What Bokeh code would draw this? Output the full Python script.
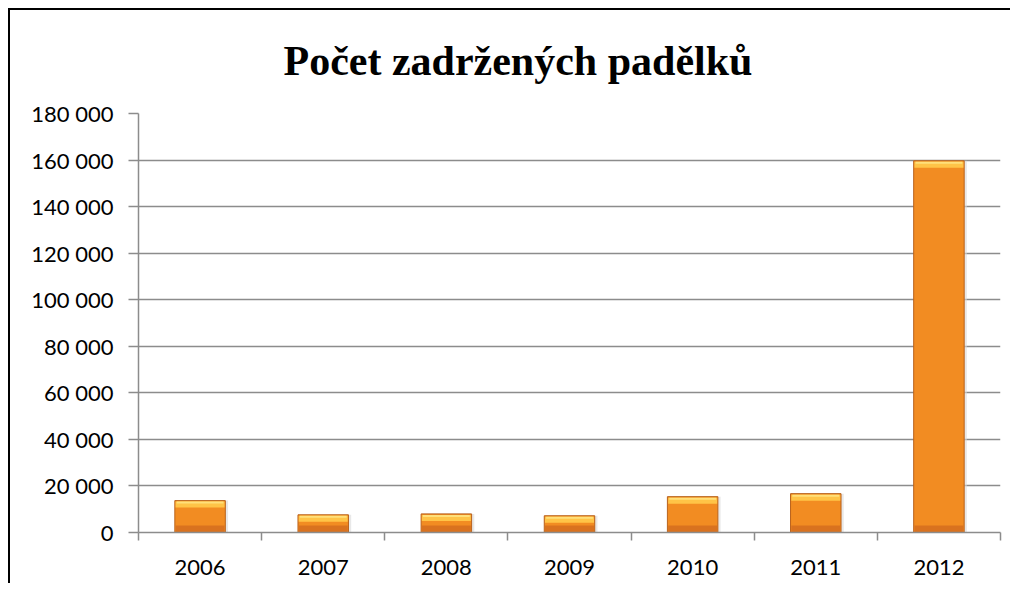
from bokeh.plotting import figure
from bokeh.models import Range1d, FixedTicker, CustomJSTickFormatter, Title
from bokeh.embed import file_html
from bokeh.resources import INLINE

# ---- data ----
years = ["2006", "2007", "2008", "2009", "2010", "2011", "2012"]
counts = [13700, 7600, 8000, 7200, 15400, 16700, 159700]
y_ticks = [0, 20000, 40000, 60000, 80000, 100000, 120000, 140000, 160000, 180000]
title_text = "Počet zadržených padělků"

W, H = 1002, 575
ML, MR, MT, MB = 128, 12, 103, 53
frame_h = H - MT - MB
ymax = 180000
u_per_px = ymax / frame_h

centers = [i + 0.5 for i in range(len(years))]
bounds = [i for i in range(len(years) + 1)]

p = figure(width=W, height=H, output_backend="svg", toolbar_location=None,
           x_range=Range1d(0, len(years)), y_range=Range1d(0, ymax),
           min_border_left=ML, min_border_right=MR, min_border_top=MT,
           min_border_bottom=MB, title=None)
p.outline_line_color = None
p.background_fill_color = "white"
p.border_fill_color = "white"
p.styles = {"border-top": "2px solid black", "border-left": "2px solid black",
            "margin-top": "8px", "margin-left": "8px"}

t = Title(text=title_text, align="left", offset=145, vertical_align="top",
          text_font="Liberation Serif", text_font_style="bold",
          text_font_size="42px", text_color="black", standoff=55)
p.add_layout(t, "above")

grid_col = "#8c8c8c"
# axes
p.xaxis.ticker = FixedTicker(ticks=centers, minor_ticks=bounds)
p.xaxis.formatter = CustomJSTickFormatter(args=dict(labels=years),
                                          code="return labels[Math.floor(tick)];")
p.xaxis.major_tick_out = 0
p.xaxis.major_tick_in = 0
p.xaxis.minor_tick_out = 8
p.xaxis.minor_tick_in = 0
p.xaxis.minor_tick_line_color = grid_col
p.xaxis.minor_tick_line_width = 1.5
p.xaxis.axis_line_color = grid_col
p.xaxis.axis_line_width = 1.5
p.xaxis.major_label_standoff = 19
p.xaxis.major_label_text_font = "Lato"
p.xaxis.major_label_text_font_size = "22px"
p.xaxis.major_label_text_color = "black"

p.yaxis.ticker = FixedTicker(ticks=y_ticks, minor_ticks=[])
p.yaxis.formatter = CustomJSTickFormatter(
    code="return tick.toFixed(0).replace(/\\B(?=(\\d{3})+(?!\\d))/g, ' ');")
p.yaxis.major_tick_out = 10
p.yaxis.major_tick_in = 0
p.yaxis.major_tick_line_color = grid_col
p.yaxis.major_tick_line_width = 1.5
p.yaxis.axis_line_color = grid_col
p.yaxis.axis_line_width = 1.5
p.yaxis.major_label_standoff = 15
p.yaxis.major_label_text_font = "Lato"
p.yaxis.major_label_text_font_size = "22px"
p.yaxis.major_label_text_color = "black"

p.xgrid.grid_line_color = None
p.ygrid.ticker = FixedTicker(ticks=y_ticks)
p.ygrid.grid_line_color = grid_col
p.ygrid.grid_line_width = 1.5

bw = 0.41
band = 7 * u_per_px
# shadow
p.vbar(x=[c + 0.012 for c in centers], top=counts, width=bw + 0.02,
       fill_color="#d9d9d9", line_color=None, fill_alpha=0.6)
# main body
p.vbar(x=centers, top=counts, width=bw, fill_color="#F28C22",
       line_color="#B9631C", line_width=1)
# lower darker zone
p.vbar(x=centers, top=[band] * len(counts), bottom=0, width=bw - 0.012,
       fill_color="#D9721F", line_color=None)
# top bevel
p.vbar(x=centers, top=[c - 1 * u_per_px for c in counts],
       bottom=[c - band for c in counts], width=bw - 0.012,
       fill_color="#FFC447", line_color=None)
p.vbar(x=centers, top=[c - 1 * u_per_px for c in counts],
       bottom=[c - 3 * u_per_px for c in counts], width=bw - 0.03,
       fill_color="#FFE07A", line_color=None)

open("out.html", "w").write(file_html(p, INLINE))
